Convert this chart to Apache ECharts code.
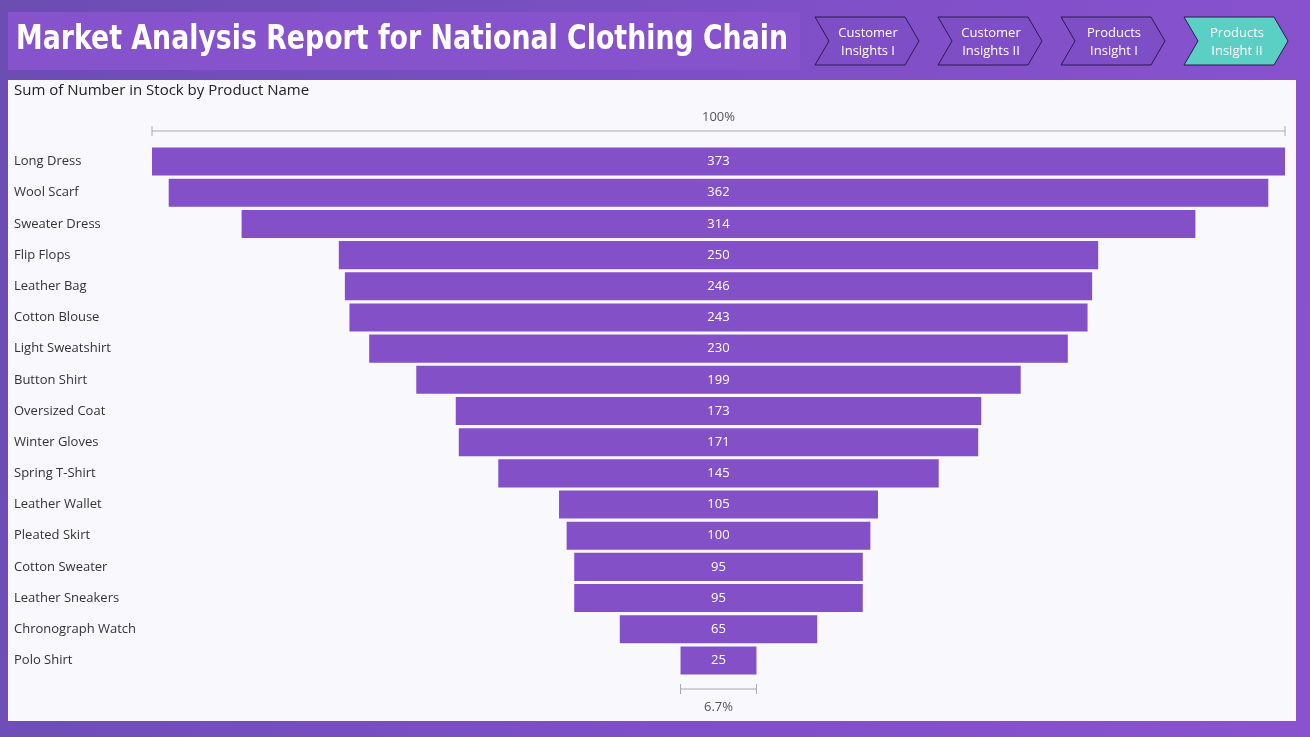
<!DOCTYPE html>
<html><head><meta charset="utf-8">
<script src="https://cdn.jsdelivr.net/npm/echarts@6/dist/echarts.min.js"></script>
<style>html,body{margin:0;padding:0;}#c{width:1310px;height:737px;background:linear-gradient(100deg,#6b4db3 0%,#7d4fc6 50%,#8a52cf 100%);}</style>
</head><body><div id="c"></div>
<script>
const categories=["Long Dress","Wool Scarf","Sweater Dress","Flip Flops","Leather Bag","Cotton Blouse","Light Sweatshirt","Button Shirt","Oversized Coat","Winter Gloves","Spring T-Shirt","Leather Wallet","Pleated Skirt","Cotton Sweater","Leather Sneakers","Chronograph Watch","Polo Shirt"];
const values=[373,362,314,250,246,243,230,199,173,171,145,105,100,95,95,65,25];
const navLabels=[["Customer","Insights I"],["Customer","Insights II"],["Products","Insight I"],["Products","Insight II"]];
const maxV=Math.max(...values);
const offsets=values.map(v=>(maxV-v)/2);
const chart=echarts.init(document.getElementById('c'));
const titleText='Market Analysis Report for National Clothing Chain';
const titleFont='bold 33px "DejaVu Sans", sans-serif';
const cv=document.createElement('canvas').getContext('2d');cv.font=titleFont;
const tScale=772/cv.measureText(titleText).width;
function chevron(x,y,w,h,fill){
  const n=14;
  return {type:'polygon',shape:{points:[[x,y],[x+w-n,y],[x+w,y+h/2],[x+w-n,y+h],[x,y+h],[x+n,y+h/2]]},
    style:{fill:fill,stroke:'#2a1a4a',lineWidth:1}};
}
const g=[
  {type:'rect',shape:{x:8,y:80,width:1288,height:641},style:{fill:'#f9f8fc'}},
  {type:'rect',shape:{x:8,y:12,width:792,height:58},style:{fill:'#8753cd'}},
  {type:'text',x:16,y:40,scaleX:tScale,style:{text:titleText,fill:'#fff',font:titleFont,textVerticalAlign:'middle'}},
  {type:'text',x:14,y:91,style:{text:'Sum of Number in Stock by Product Name',fill:'#222',font:'15px "Open Sans", sans-serif',textVerticalAlign:'middle'}}
];
navLabels.forEach((l,i)=>{
  const x=815+i*123;
  g.push(chevron(x,17,104,48,i===3?'#5ccfc4':'#7e4ec6'));
  g.push({type:'text',x:x+53,y:42,style:{text:l.join('\n'),fill:'#fff',font:'13px "Open Sans", sans-serif',align:'center',verticalAlign:'middle',lineHeight:18}});
});
chart.setOption({
  animation:false,
  grid:{left:152,right:25,top:146,bottom:61},
  xAxis:{type:'value',min:0,max:maxV,show:false},
  yAxis:{type:'category',data:categories,inverse:true,axisLine:{show:false},axisTick:{show:false},
    axisLabel:{margin:0,align:'left',padding:[0,0,0,-138],color:'#333',fontSize:13,fontFamily:'"Open Sans", sans-serif'}},
  series:[
    {type:'bar',stack:'f',data:offsets,itemStyle:{color:'transparent'},barCategoryGap:'10%',silent:true},
    {type:'bar',stack:'f',data:values,itemStyle:{color:'#8350c8'},barCategoryGap:'10%',
      label:{show:true,position:'inside',color:'#fff',fontSize:13,fontFamily:'"Open Sans", sans-serif'}}
  ],
  graphic:g
});
const l0=chart.convertToPixel({gridIndex:0},[0,0])[0], r0=chart.convertToPixel({gridIndex:0},[maxV,0])[0];
const last=values[values.length-1];
const l1=chart.convertToPixel({gridIndex:0},[offsets[offsets.length-1],0])[0], r1=chart.convertToPixel({gridIndex:0},[offsets[offsets.length-1]+last,0])[0];
const ln={stroke:'#aaa',lineWidth:1};
const g2=g.concat([
  {type:'line',shape:{x1:l0,y1:131,x2:r0,y2:131},style:ln},
  {type:'line',shape:{x1:l0,y1:126,x2:l0,y2:136},style:ln},
  {type:'line',shape:{x1:r0,y1:126,x2:r0,y2:136},style:ln},
  {type:'text',x:(l0+r0)/2,y:117,style:{text:'100%',fill:'#555',font:'13px "Open Sans", sans-serif',align:'center',verticalAlign:'middle'}},
  {type:'line',shape:{x1:l1,y1:689,x2:r1,y2:689},style:ln},
  {type:'line',shape:{x1:l1,y1:684,x2:l1,y2:694},style:ln},
  {type:'line',shape:{x1:r1,y1:684,x2:r1,y2:694},style:ln},
  {type:'text',x:(l1+r1)/2,y:707,style:{text:(last/maxV*100).toFixed(1)+'%',fill:'#555',font:'13px "Open Sans", sans-serif',align:'center',verticalAlign:'middle'}}
]);
chart.setOption({graphic:g2});
</script></body></html>
